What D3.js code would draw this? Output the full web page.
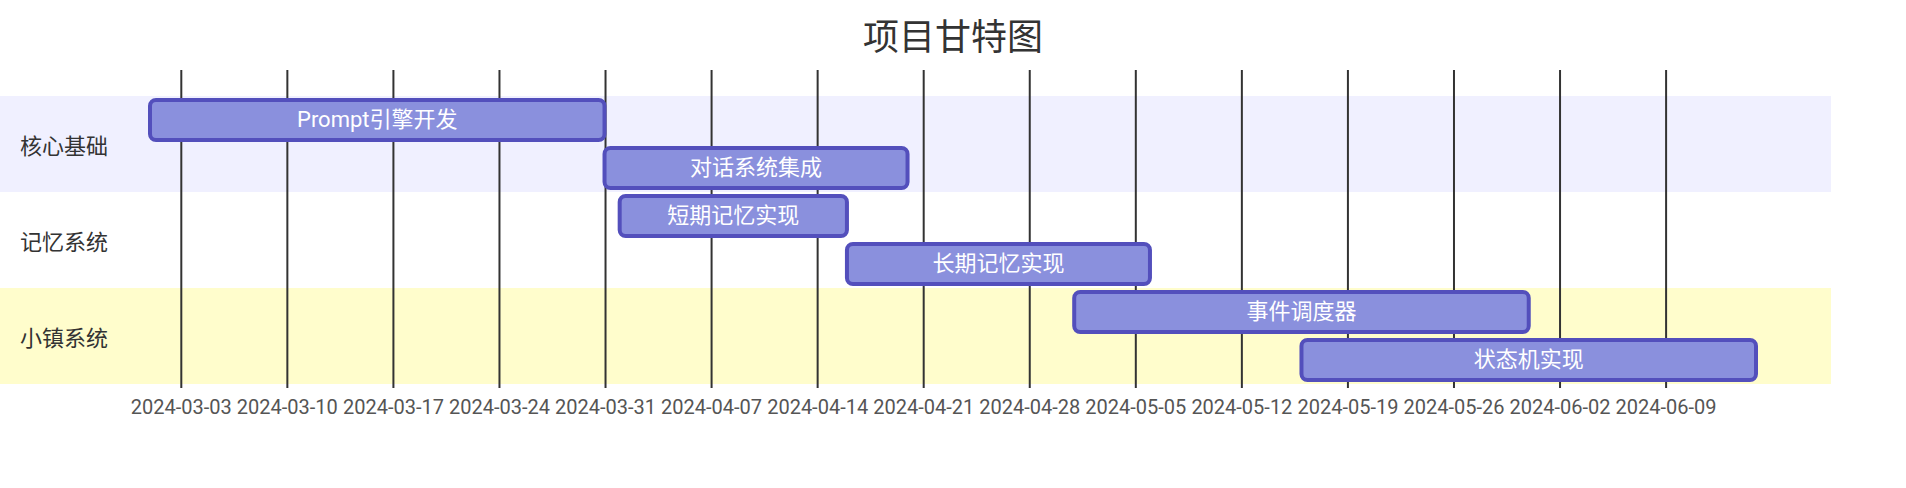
<!DOCTYPE html>
<html>
<head>
<meta charset="utf-8">
<script src="https://cdn.jsdelivr.net/npm/d3@7"></script>
<style>
  html, body { margin: 0; padding: 0; background: #fff; }
  svg { display: block; }
  text { font-family: Roboto, "Noto Sans CJK SC", sans-serif; }
</style>
</head>
<body>
<svg id="chart" width="1906" height="488"></svg>
<script>
const title = "项目甘特图";
const sections = ["核心基础", "记忆系统", "小镇系统"];
const taskNames = ["Prompt引擎开发", "对话系统集成", "短期记忆实现", "长期记忆实现", "事件调度器", "状态机实现"];
const taskSection = [0, 0, 1, 1, 2, 2];
const taskStarts = ["2024-03-01", "2024-03-31", "2024-04-01", "2024-04-16", "2024-05-01", "2024-05-16"];
const taskEnds = ["2024-03-31", "2024-04-20", "2024-04-16", "2024-05-06", "2024-05-31", "2024-06-15"];

const parse = d3.timeParse("%Y-%m-%d");
const tasks = taskNames.map((n, i) => ({
  name: n, section: taskSection[i], start: parse(taskStarts[i]), end: parse(taskEnds[i]), idx: i
}));

// layout in mermaid units, scaled x2 to fill the 1906 px window
const S = 2;
const w = 1906 / S;
const barHeight = 20, barGap = 4, gap = barHeight + barGap;
const topPad = 50, leftPad = 75, rightPad = 75, gridStart = 35;
const h = tasks.length * gap + topPad * 2;

const svg = d3.select("#chart");
const root = svg.append("g").attr("transform", `scale(${S})`);

const x = d3.scaleTime()
  .domain([d3.min(tasks, d => d.start), d3.max(tasks, d => d.end)])
  .range([0, w - leftPad - rightPad]);

const sectionFill = ["#f0f0ff", "#ffffff", "#fffdcc"];

// section background rows
root.append("g").selectAll("rect").data(tasks).join("rect")
  .attr("x", 0)
  .attr("y", d => d.idx * gap + topPad - 2)
  .attr("width", w - rightPad / 2)
  .attr("height", gap)
  .attr("fill", d => sectionFill[d.section]);

// grid / axis
const axis = d3.axisBottom(x)
  .ticks(d3.timeWeek.every(1))
  .tickSize(-h + topPad + gridStart)
  .tickFormat(d3.timeFormat("%Y-%m-%d"));
const grid = root.append("g")
  .attr("transform", `translate(${leftPad},${h - 50})`)
  .call(axis);
grid.select(".domain").remove();
grid.selectAll(".tick line").attr("stroke", "#333").attr("stroke-width", 1);
grid.selectAll(".tick text")
  .attr("fill", "#555")
  .attr("font-size", 10)
  .attr("font-family", "Roboto, 'Noto Sans CJK SC', sans-serif")
  .attr("dy", "1em");

// bars
root.append("g").selectAll("rect").data(tasks).join("rect")
  .attr("x", d => x(d.start) + leftPad)
  .attr("y", d => d.idx * gap + topPad)
  .attr("width", d => x(d.end) - x(d.start))
  .attr("height", barHeight)
  .attr("rx", 3).attr("ry", 3)
  .attr("fill", "#8a90dd")
  .attr("stroke", "#534fbc")
  .attr("stroke-width", 2);

// task labels
root.append("g").selectAll("text").data(tasks).join("text")
  .attr("x", d => (x(d.start) + x(d.end)) / 2 + leftPad)
  .attr("y", d => d.idx * gap + topPad + barHeight / 2 - 0.5)
  .attr("text-anchor", "middle")
  .attr("dominant-baseline", "central")
  .attr("font-size", 11)
  .attr("fill", "#ffffff")
  .text(d => d.name);

// section titles
const counts = sections.map((s, i) => tasks.filter(t => t.section === i).length);
root.append("g").selectAll("text").data(sections).join("text")
  .attr("x", 10)
  .attr("y", (d, i) => {
    const before = d3.sum(counts.slice(0, i));
    return before * gap + counts[i] * gap / 2 + topPad - 0.8;
  })
  .attr("dominant-baseline", "central")
  .attr("font-size", 11)
  .attr("fill", "#333")
  .text(d => d);

// title
root.append("text")
  .attr("x", w / 2)
  .attr("y", 25)
  .attr("text-anchor", "middle")
  .attr("font-size", 18)
  .attr("fill", "#333")
  .text(title);
</script>
</body>
</html>
